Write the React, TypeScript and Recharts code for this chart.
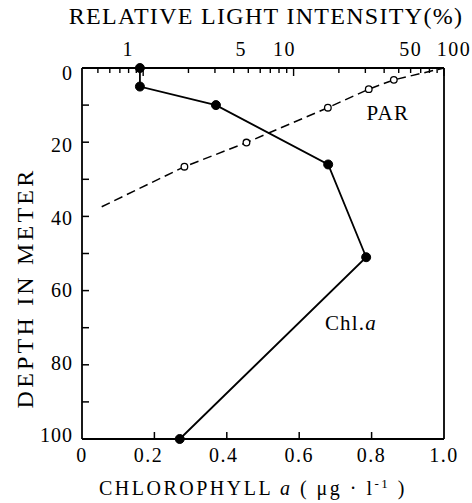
import React from 'react';
import { ComposedChart, Line, XAxis, YAxis, ReferenceLine, ReferenceDot } from 'recharts';

// ---- data ----
const depthTicks = [0, 10, 20, 30, 40, 50, 60, 70, 80, 90, 100];
const depthLabels = [0, 20, 40, 60, 80, 100];
const chlTicks = [0, 0.2, 0.4, 0.6, 0.8, 1.0];
const chlTickLabels = ['0', '0.2', '0.4', '0.6', '0.8', '1.0'];
const lightTicks = [0.5, 0.6, 0.7, 0.8, 0.9, 1, 2, 3, 4, 5, 6, 7, 8, 9, 10, 20, 30, 40, 50, 60, 70, 80, 90, 100];
const lightLabels = [1, 5, 10, 50, 100];
const lightMajor = [1, 10, 100];

const chlValues = [0.16, 0.16, 0.37, 0.68, 0.785, 0.27];
const chlDepths = [0, 5, 10, 26, 51, 100];

const parLight = [1.88, 4.86, 16.9, 31.6, 46.4];
const parDepths = [26.6, 20.1, 10.7, 5.7, 3.2];
const parLineStart = { light: 0.53, depth: 37.4 };
const parLineEnd = { light: 100, depth: 0 };

const chlData = chlValues.map((c, i) => ({ chl: c, depth: chlDepths[i] }));
const parData = [
  { ...parLineStart, measured: false },
  ...parLight.map((l, i) => ({ light: l, depth: parDepths[i], measured: true })),
  { ...parLineEnd, measured: false },
];

// ---- style ----
const FONT = "'Liberation Serif', 'DejaVu Serif', serif";
const topLabelShift: Record<number, number> = { 1: -15, 5: -7, 10: -9, 50: 12, 100: 10 };
const bottomLabelShift: Record<string, number> = { '0.2': -6, '0.4': -3 };

const BottomTick = (p: any) => {
  const { x, y, payload } = p;
  const v = payload.value;
  const idx = chlTicks.findIndex((t) => Math.abs(t - v) < 1e-9);
  const lab = chlTickLabels[idx];
  return (
    <g>
      {v > 0.01 && v < 0.99 && (
        <line x1={x} x2={x} y1={y} y2={y - 7} stroke="#000" strokeWidth={1.5} />
      )}
      <text x={x + (bottomLabelShift[lab] || 0)} y={y + 23} textAnchor="middle" fontFamily={FONT} fontSize={20} letterSpacing={1.5} fill="#000">
        {lab}
      </text>
    </g>
  );
};

const LeftTick = (p: any) => {
  const { x, y, payload } = p;
  const v = payload.value;
  const show = depthLabels.includes(v);
  const dy = 5 - 0.09 * v;
  return (
    <g>
      <line x1={x} x2={x + 7} y1={y} y2={y} stroke="#000" strokeWidth={1.5} />
      {show && (
        <text x={x - 9} y={y + dy + 7} textAnchor="end" fontFamily={FONT} fontSize={20} letterSpacing={1} fill="#000">
          {v}
        </text>
      )}
    </g>
  );
};

const TopTick = (p: any) => {
  const { x, y, payload } = p;
  const v = payload.value;
  const len = lightMajor.includes(v) ? 8 : 5;
  const show = lightLabels.includes(v);
  return (
    <g>
      <line x1={x} x2={x} y1={y} y2={y + len} stroke="#000" strokeWidth={1.4} />
      {show && (
        <text x={x + (topLabelShift[v] || 0)} y={y - 12} textAnchor="middle" fontFamily={FONT} fontSize={20} letterSpacing={1.5} fill="#000">
          {v}
        </text>
      )}
    </g>
  );
};

const TopTitle = () => (
  <text x={266} y={24} textAnchor="middle" fontFamily={FONT} fontSize={24} letterSpacing={1.3} fill="#000">
    RELATIVE LIGHT INTENSITY(%)
  </text>
);

const BottomTitle = () => (
  <text x={253} y={495} textAnchor="middle" fontFamily={FONT} fontSize={20} letterSpacing={2.5} fill="#000">
    CHLOROPHYLL <tspan fontStyle="italic">a</tspan> ( μg · l
    <tspan dy={-7} fontSize={13}>-1</tspan>
    <tspan dy={7}> )</tspan>
  </text>
);

const LeftTitle = () => (
  <text x={33} y={288} transform="rotate(-90, 33, 288)" textAnchor="middle" fontFamily={FONT} fontSize={24} letterSpacing={3.2} fill="#000">
    DEPTH IN METER
  </text>
);

const ParDot = (p: any) => {
  const { cx, cy, payload, index } = p;
  if (!payload || !payload.measured) return <g key={`pd-${index}`} />;
  return <circle key={`pd-${index}`} cx={cx} cy={cy} r={3.3} fill="#fff" stroke="#000" strokeWidth={1.3} />;
};

const textAt = (txt: React.ReactNode) => (props: any) => {
  const vb = props.viewBox || {};
  return (
    <text x={vb.x} y={(vb.y || 0) + 7} textAnchor="middle" fontFamily={FONT} fontSize={21} letterSpacing={1.2} fill="#000">
      {txt}
    </text>
  );
};

export default function App() {
  return (
    <div style={{ position: 'absolute', left: 0, top: 0, background: '#fff' }}>
      <ComposedChart width={472} height={503} margin={{ top: 0, right: 28, bottom: 0, left: 0 }}>
        <XAxis
          xAxisId="chl"
          type="number"
          dataKey="chl"
          domain={[0, 1]}
          ticks={chlTicks}
          interval={0}
          orientation="bottom"
          height={64}
          tickSize={0}
          tickMargin={0}
          tickLine={false}
          axisLine={{ stroke: '#000', strokeWidth: 1.8 }}
          tick={BottomTick}
          label={BottomTitle}
        />
        <XAxis
          xAxisId="light"
          type="number"
          dataKey="light"
          scale="log"
          domain={[0.392, 100]}
          ticks={lightTicks}
          interval={0}
          orientation="top"
          height={68}
          tickSize={0}
          tickMargin={0}
          tickLine={false}
          axisLine={{ stroke: '#000', strokeWidth: 1.8 }}
          tick={TopTick}
          label={TopTitle}
        />
        <YAxis
          type="number"
          dataKey="depth"
          domain={[0, 100]}
          reversed
          ticks={depthTicks}
          interval={0}
          width={82}
          tickSize={0}
          tickMargin={0}
          tickLine={false}
          axisLine={{ stroke: '#000', strokeWidth: 1.8 }}
          tick={LeftTick}
          label={LeftTitle}
        />
        <ReferenceLine xAxisId="chl" x={1} stroke="#000" strokeWidth={1.8} />
        <Line
          xAxisId="light"
          data={parData}
          dataKey="depth"
          type="linear"
          stroke="#000"
          strokeWidth={1.5}
          strokeDasharray="9 5"
          dot={ParDot}
          activeDot={false}
          isAnimationActive={false}
        />
        <Line
          xAxisId="chl"
          data={chlData}
          dataKey="depth"
          type="linear"
          stroke="#000"
          strokeWidth={1.8}
          dot={{ r: 4.5, fill: '#000', stroke: '#000', strokeWidth: 1 }}
          activeDot={false}
          isAnimationActive={false}
        />
        <ReferenceDot xAxisId="chl" x={0.845} y={12.1} r={0} fill="none" stroke="none" label={textAt('PAR')} />
        <ReferenceDot
          xAxisId="chl"
          x={0.743}
          y={68.8}
          r={0}
          fill="none"
          stroke="none"
          label={textAt(<>Chl.<tspan fontStyle="italic">a</tspan></>)}
        />
      </ComposedChart>
    </div>
  );
}
